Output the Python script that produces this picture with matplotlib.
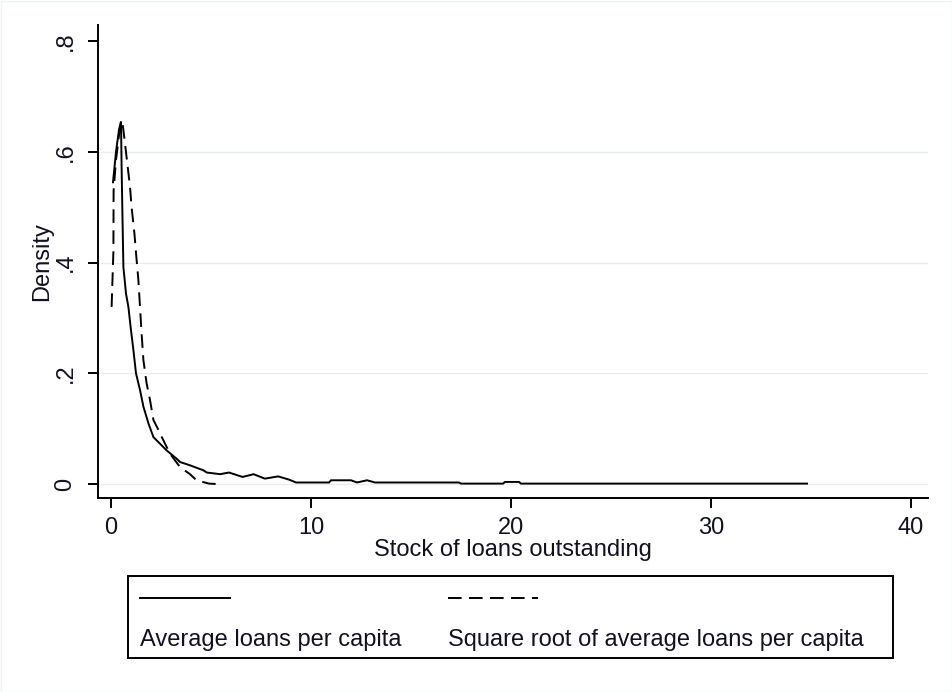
import matplotlib
matplotlib.use("Agg")
import matplotlib.pyplot as plt
from matplotlib.patches import Rectangle
from matplotlib.lines import Line2D

plt.rcParams['font.family'] = ['Liberation Sans', 'DejaVu Sans']

# ---- data ----
avg_x = [0.10, 0.25, 0.40, 0.50, 0.53, 0.57, 0.62, 0.75, 0.87, 0.98, 1.12, 1.25,
         1.45, 1.62, 1.87, 2.12, 2.45, 2.78, 3.28, 3.45, 3.95, 4.62, 4.79, 5.46,
         5.90, 6.58, 7.13, 7.69, 8.36, 8.92, 9.25, 10.9, 11.0, 12.0, 12.3, 12.8,
         13.2, 17.4, 17.5, 19.6, 19.7, 20.4, 20.5, 34.8]
avg_y = [0.545, 0.600, 0.640, 0.655, 0.573, 0.490, 0.392, 0.344, 0.320, 0.284,
         0.242, 0.200, 0.170, 0.140, 0.110, 0.085, 0.073, 0.061, 0.046, 0.040,
         0.034, 0.025, 0.021, 0.018, 0.021, 0.013, 0.018, 0.010, 0.014, 0.008,
         0.003, 0.003, 0.007, 0.007, 0.003, 0.007, 0.003, 0.003, 0.001, 0.001,
         0.004, 0.004, 0.001, 0.001]

sqrt_x = [0.03, 0.12, 0.13, 0.25, 0.40, 0.57, 0.70, 0.78, 0.95, 1.03, 1.17, 1.28,
          1.37, 1.45, 1.53, 1.62, 1.78, 1.95, 2.12, 2.37, 2.62, 2.95, 3.45, 3.95,
          4.28, 4.90, 5.45]
sqrt_y = [0.320, 0.420, 0.530, 0.585, 0.630, 0.654, 0.615, 0.590, 0.537, 0.500,
          0.453, 0.405, 0.368, 0.320, 0.272, 0.224, 0.182, 0.152, 0.116, 0.098,
          0.079, 0.055, 0.031, 0.018, 0.007, 0.001, 0.000]

x_ticks = [0, 10, 20, 30, 40]
x_tick_labels = ["0", "10", "20", "30", "40"]
y_ticks = [0, 0.2, 0.4, 0.6, 0.8]
y_tick_labels = ["0", ".2", ".4", ".6", ".8"]
grid_levels = [0, 0.2, 0.4, 0.6]

series_labels = ["Average loans per capita", "Square root of average loans per capita"]
x_title = "Stock of loans outstanding"
y_title = "Density"

# ---- figure ----
W, H = 952, 692
fig = plt.figure(figsize=(W / 100, H / 100), dpi=100)
fig.patch.set_facecolor('white')

def fx(px):
    return px / W

def fy(py):
    return 1 - py / H

ax = fig.add_axes([fx(98), fy(498), fx(928) - fx(98), fy(25) - fy(498)])
ax.set_xlim(-0.65, 40.85)
ax.set_ylim(-0.025, 0.829)

for g in grid_levels:
    ax.axhline(g, color='#e4eef0', lw=1.0, zorder=0)

dash = (0, (7.0, 3.8))
ax.plot(avg_x, avg_y, color='black', lw=1.4, solid_joinstyle='miter', zorder=3)
ax.plot(sqrt_x, sqrt_y, color='black', lw=1.4, linestyle=dash, zorder=3)

for s in ['top', 'right']:
    ax.spines[s].set_visible(False)
for s in ['left', 'bottom']:
    ax.spines[s].set_linewidth(1.4)
    ax.spines[s].set_color('black')

FS = 17
TXT = '#111122'
ax.set_xticks(x_ticks)
ax.set_xticklabels(x_tick_labels, fontsize=FS, color=TXT)
ax.set_yticks(y_ticks)
ax.set_yticklabels(y_tick_labels, fontsize=FS, color=TXT, rotation=90, va='center')
ax.tick_params(axis='both', length=7.5, width=1.4, color='black')
ax.tick_params(axis='x', pad=6)
ax.tick_params(axis='y', pad=8)

ax.set_xlabel(x_title, fontsize=FS, color=TXT, labelpad=0)
ax.set_ylabel(y_title, fontsize=FS, color=TXT, labelpad=1)

# ---- legend (drawn in figure pixel coordinates) ----
lax = fig.add_axes([0, 0, 1, 1], facecolor='none')
lax.set_xlim(0, W)
lax.set_ylim(H, 0)
lax.axis('off')
lax.add_patch(Rectangle((128, 576), 893 - 128, 658 - 576, fill=False,
                        edgecolor='black', lw=1.4))
lax.add_line(Line2D([140, 230], [598, 598], color='black', lw=1.4))
lax.add_line(Line2D([448, 538], [598, 598], color='black', lw=1.4, linestyle=dash))
lax.text(140, 646, series_labels[0], fontsize=FS, color=TXT, ha='left', va='baseline')
lax.text(448, 646, series_labels[1], fontsize=FS, color=TXT, ha='left', va='baseline')

# faint outer frame
lax.add_patch(Rectangle((0.5, 0.5), W - 1, H - 1, fill=False, edgecolor='#eef3f4', lw=1))

fig.savefig('out.png', dpi=100)
